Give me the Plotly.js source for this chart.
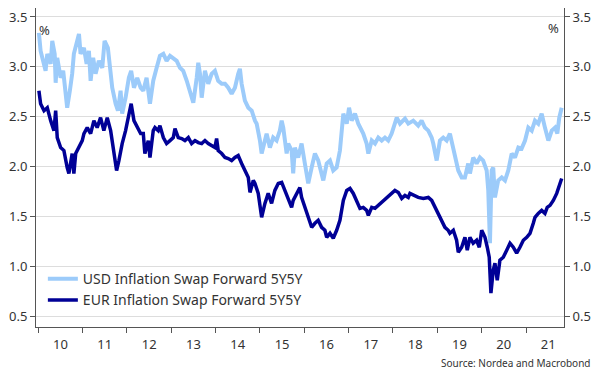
<!DOCTYPE html>
<html>
<head>
<meta charset="utf-8">
<script src="https://cdn.plot.ly/plotly-3.0.1.min.js"></script>
<style>
  html, body { margin: 0; padding: 0; background: #ffffff; }
  #chart { width: 602px; height: 381px; }
</style>
</head>
<body>
<div id="chart"></div>
<script>
// Dates as decimal years, values in %
const usdYears = [2010.016,2010.054,2010.167,2010.203,2010.280,2010.316,2010.370,2010.393,2010.429,2010.505,2010.564,2010.654,2010.715,2010.767,2010.805,2010.880,2010.918,2010.956,2011.031,2011.092,2011.144,2011.182,2011.241,2011.295,2011.369,2011.444,2011.498,2011.572,2011.633,2011.669,2011.746,2011.798,2011.859,2011.895,2011.972,2012.046,2012.098,2012.159,2012.233,2012.310,2012.369,2012.445,2012.520,2012.594,2012.671,2012.745,2012.820,2012.896,2012.971,2013.045,2013.122,2013.196,2013.271,2013.348,2013.422,2013.497,2013.573,2013.609,2013.648,2013.686,2013.760,2013.835,2013.912,2013.986,2014.060,2014.137,2014.212,2014.286,2014.363,2014.437,2014.511,2014.550,2014.588,2014.663,2014.737,2014.814,2014.889,2014.927,2015.001,2015.039,2015.114,2015.152,2015.227,2015.301,2015.378,2015.452,2015.491,2015.527,2015.565,2015.603,2015.640,2015.716,2015.752,2015.791,2015.865,2015.942,2016.016,2016.091,2016.167,2016.242,2016.316,2016.393,2016.429,2016.506,2016.580,2016.655,2016.731,2016.806,2016.844,2016.880,2016.957,2017.009,2017.070,2017.144,2017.219,2017.295,2017.331,2017.408,2017.444,2017.521,2017.595,2017.670,2017.746,2017.821,2017.895,2017.972,2018.046,2018.085,2018.159,2018.272,2018.347,2018.459,2018.572,2018.649,2018.723,2018.798,2018.874,2018.910,2018.987,2019.061,2019.136,2019.213,2019.287,2019.362,2019.438,2019.474,2019.551,2019.625,2019.700,2019.738,2019.813,2019.890,2019.964,2020.038,2020.115,2020.151,2020.189,2020.228,2020.264,2020.302,2020.377,2020.454,2020.528,2020.602,2020.679,2020.753,2020.828,2020.904,2020.979,2021.053,2021.130,2021.204,2021.279,2021.356,2021.430,2021.505,2021.581,2021.655,2021.707,2021.752,2021.806];
const usdValues = [3.34,3.16,2.96,3.13,3.03,3.26,3.13,2.84,3.09,2.89,2.96,2.59,2.76,2.93,3.13,3.26,3.33,3.13,3.19,3.03,3.16,2.86,3.09,2.93,3.06,2.99,3.26,3.19,2.93,2.79,2.63,2.56,2.76,2.53,2.69,2.89,2.96,2.79,2.89,2.79,2.76,2.89,2.63,2.86,2.99,3.11,3.13,3.06,3.11,3.09,3.06,2.99,2.96,2.86,2.76,2.64,2.89,3.04,2.93,2.69,2.96,2.83,2.93,2.96,2.86,2.83,2.83,2.79,2.73,2.79,2.93,2.98,2.83,2.66,2.59,2.56,2.46,2.43,2.26,2.13,2.26,2.33,2.19,2.29,2.26,2.36,2.46,2.39,2.26,2.13,2.23,2.16,1.93,2.19,2.09,2.23,2.03,1.83,1.99,2.13,2.06,1.93,1.86,2.03,2.06,1.96,1.99,2.16,2.36,2.53,2.43,2.59,2.46,2.53,2.43,2.36,2.33,2.23,2.13,2.26,2.23,2.29,2.26,2.29,2.26,2.33,2.43,2.49,2.43,2.48,2.43,2.46,2.41,2.46,2.39,2.36,2.29,2.23,2.06,2.26,2.29,2.26,2.33,2.19,2.03,1.96,1.89,1.89,2.03,1.93,2.09,2.03,2.09,2.06,1.96,1.76,1.23,1.96,1.99,1.69,1.86,1.89,1.86,1.96,2.13,2.09,2.19,2.18,2.26,2.39,2.36,2.46,2.43,2.53,2.39,2.26,2.36,2.39,2.33,2.49,2.59];

const eurYears = [2010.016,2010.054,2010.129,2010.203,2010.280,2010.354,2010.393,2010.429,2010.505,2010.580,2010.654,2010.693,2010.767,2010.805,2010.844,2010.918,2010.993,2011.031,2011.105,2011.182,2011.256,2011.331,2011.408,2011.482,2011.557,2011.633,2011.708,2011.769,2011.820,2011.895,2011.972,2012.046,2012.098,2012.159,2012.233,2012.310,2012.369,2012.407,2012.481,2012.520,2012.594,2012.633,2012.707,2012.745,2012.820,2012.896,2012.971,2013.045,2013.084,2013.158,2013.235,2013.309,2013.384,2013.460,2013.535,2013.609,2013.686,2013.760,2013.835,2013.912,2013.986,2014.024,2014.060,2014.137,2014.212,2014.286,2014.363,2014.437,2014.511,2014.588,2014.663,2014.737,2014.776,2014.851,2014.889,2014.963,2015.039,2015.114,2015.188,2015.265,2015.339,2015.414,2015.491,2015.565,2015.640,2015.716,2015.752,2015.829,2015.903,2015.942,2016.016,2016.091,2016.167,2016.242,2016.316,2016.393,2016.467,2016.506,2016.580,2016.655,2016.731,2016.806,2016.880,2016.957,2017.031,2017.106,2017.182,2017.257,2017.331,2017.408,2017.444,2017.521,2017.595,2017.670,2017.746,2017.821,2017.895,2017.972,2018.046,2018.121,2018.198,2018.272,2018.347,2018.385,2018.459,2018.572,2018.685,2018.798,2018.874,2018.949,2019.023,2019.100,2019.174,2019.249,2019.287,2019.362,2019.438,2019.474,2019.551,2019.625,2019.677,2019.738,2019.813,2019.890,2019.948,2020.003,2020.077,2020.129,2020.174,2020.212,2020.264,2020.302,2020.354,2020.415,2020.490,2020.566,2020.641,2020.715,2020.792,2020.866,2020.941,2021.018,2021.092,2021.166,2021.205,2021.279,2021.356,2021.430,2021.482,2021.543,2021.617,2021.694,2021.768,2021.806];
const eurValues = [2.76,2.63,2.56,2.59,2.46,2.36,2.56,2.29,2.19,2.16,1.99,1.93,2.13,1.93,2.13,2.19,2.26,2.33,2.39,2.33,2.46,2.39,2.49,2.36,2.49,2.36,2.13,1.96,2.06,2.23,2.36,2.53,2.63,2.46,2.39,2.33,2.33,2.13,2.26,2.09,2.36,2.39,2.36,2.41,2.29,2.23,2.26,2.29,2.38,2.29,2.28,2.26,2.29,2.23,2.26,2.24,2.23,2.26,2.23,2.21,2.19,2.28,2.16,2.13,2.09,2.08,2.06,2.09,2.11,2.03,1.96,1.89,1.74,1.86,1.83,1.73,1.49,1.63,1.73,1.63,1.76,1.83,1.84,1.76,1.69,1.59,1.66,1.73,1.79,1.69,1.59,1.49,1.39,1.43,1.46,1.39,1.36,1.29,1.33,1.28,1.36,1.46,1.66,1.76,1.78,1.73,1.66,1.58,1.59,1.56,1.51,1.59,1.58,1.61,1.63,1.66,1.69,1.73,1.76,1.74,1.68,1.71,1.69,1.73,1.71,1.69,1.68,1.69,1.66,1.59,1.53,1.46,1.39,1.36,1.33,1.36,1.26,1.14,1.19,1.29,1.16,1.29,1.23,1.26,1.19,1.36,1.29,1.19,1.09,0.73,0.96,1.03,0.86,1.06,1.09,1.16,1.23,1.19,1.13,1.19,1.26,1.29,1.33,1.43,1.49,1.53,1.56,1.53,1.59,1.61,1.66,1.73,1.83,1.88];

const seriesNames = ['USD Inflation Swap Forward 5Y5Y', 'EUR Inflation Swap Forward 5Y5Y'];
const unitLabel = '%';
const sourceText = 'Source: Nordea and Macrobond';
const yTickValues = [0.5, 1.0, 1.5, 2.0, 2.5, 3.0, 3.5];

function toDate(y) {
  const yr = Math.floor(y);
  const s = Date.UTC(yr, 0, 1), e = Date.UTC(yr + 1, 0, 1);
  return new Date(s + (y - yr) * (e - s)).toISOString().slice(0, 10);
}

const FONT = '"Noto Sans", "Open Sans", Arial, sans-serif';
const TXT = '#333333';

const traces = [
  { x: usdYears.map(toDate), y: usdValues, name: seriesNames[0], type: 'scatter', mode: 'lines',
    line: { color: '#9ccbfa', width: 4 } },
  { x: eurYears.map(toDate), y: eurValues, name: seriesNames[1], type: 'scatter', mode: 'lines',
    line: { color: '#000096', width: 3.5 } },
  { x: [toDate(2015)], y: [null], yaxis: 'y2', showlegend: false, hoverinfo: 'skip', type: 'scatter' }
];

const yCommon = {
  range: [0.39, 3.59], tickvals: yTickValues, tickformat: '.1f',
  ticks: 'outside', ticklen: 5, tickcolor: '#555', tickwidth: 1,
  showline: true, linecolor: '#555', linewidth: 1,
  tickfont: { family: FONT, size: 13, color: TXT }, zeroline: false, fixedrange: true
};

const layout = {
  width: 602, height: 381,
  margin: { l: 36, r: 38, t: 8, b: 54 },
  paper_bgcolor: '#ffffff', plot_bgcolor: '#ffffff',
  font: { family: FONT, color: TXT },
  showlegend: true,
  legend: { x: 0.013, y: 0.2, xanchor: 'left', yanchor: 'top', bgcolor: 'rgba(255,255,255,0)',
    font: { family: FONT, size: 14, color: TXT }, itemwidth: 30, tracegroupgap: 0 },
  xaxis: {
    type: 'date', range: [toDate(2009.948), toDate(2021.859)],
    tick0: '2010-01-01', dtick: 'M12', tickformat: '%y', ticklabelmode: 'period',
    ticks: 'outside', ticklen: 5, tickcolor: '#555', showline: true, linecolor: '#555',
    showgrid: false, tickfont: { family: FONT, size: 13, color: TXT }, fixedrange: true
  },
  yaxis: Object.assign({}, yCommon, { side: 'left', showgrid: true, gridcolor: '#dddddd', gridwidth: 1 }),
  yaxis2: Object.assign({}, yCommon, { side: 'right', overlaying: 'y', showgrid: false }),
  annotations: [
    { text: unitLabel, xref: 'paper', yref: 'paper', x: 0.017, y: 0.93, xanchor: 'center', yanchor: 'middle',
      showarrow: false, font: { family: FONT, size: 13, color: TXT } },
    { text: unitLabel, xref: 'paper', yref: 'paper', x: 0.981, y: 0.937, xanchor: 'center', yanchor: 'middle',
      showarrow: false, font: { family: FONT, size: 13, color: TXT } },
    { text: sourceText, xref: 'paper', yref: 'paper', x: 1.0525, y: -0.113, xanchor: 'right', yanchor: 'middle',
      showarrow: false, font: { family: FONT, size: 10, color: TXT } }
  ]
};

Plotly.newPlot('chart', traces, layout, { displayModeBar: false, staticPlot: true });
</script>
</body>
</html>
